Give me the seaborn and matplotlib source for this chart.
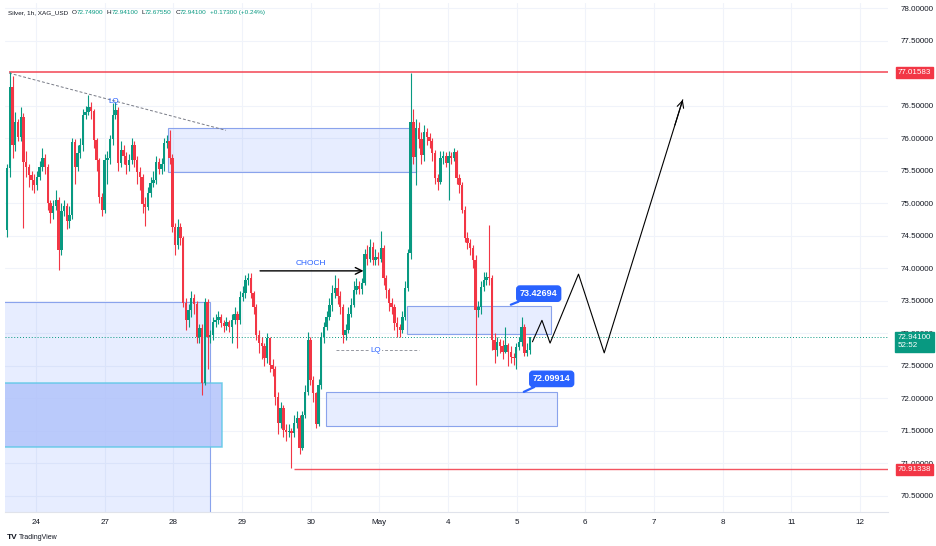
import numpy as np
import pandas as pd
import seaborn as sns
import matplotlib.pyplot as plt
from matplotlib.patches import Rectangle

# ---- values (1h candles, XAG/USD) ----
first_open = 74.59
closes = [
    75.54, 76.79, 75.89, 76.25, 76.02, 76.33, 75.63, 75.55, 75.43, 75.36,
    75.28, 75.40, 75.55, 75.70, 75.56, 75.00, 74.85, 74.95, 75.05, 74.28,
    74.88, 74.95, 74.72, 74.82, 75.94, 75.55, 75.77, 75.89, 76.36, 76.40,
    76.48, 76.42, 75.97, 75.66, 75.10, 74.90, 75.66, 75.70, 75.98, 76.36,
    76.43, 75.62, 75.82, 75.72, 75.58, 75.66, 75.89, 75.66, 75.48, 75.40,
    74.99, 74.94, 75.15, 75.31, 75.36, 75.63, 75.52, 75.60, 75.92, 75.95,
    75.70, 74.63, 74.36, 74.63, 74.46, 73.47, 73.20, 73.36, 73.54, 73.45,
    72.94, 73.08, 72.24, 73.48, 72.94, 72.98, 73.17, 73.20, 73.25, 73.16,
    73.12, 73.18, 73.10, 73.20, 73.30, 73.20, 73.56, 73.62, 73.82, 73.85,
    73.62, 73.41, 72.98, 72.85, 72.80, 72.62, 72.93, 72.51, 72.45, 72.02,
    71.62, 71.85, 71.51, 71.48, 71.50, 71.47, 71.62, 71.70, 71.24, 71.74,
    72.10, 72.90, 72.28, 72.08, 71.60, 72.20, 72.94, 73.10, 73.25, 73.43,
    73.62, 73.70, 73.58, 73.40, 72.97, 73.05, 73.30, 73.44, 73.67, 73.72,
    73.68, 73.78, 74.22, 74.15, 74.32, 74.12, 74.18, 74.15, 74.31, 73.85,
    73.67, 73.47, 73.40, 73.16, 73.10, 73.05, 73.25, 73.70, 74.23, 76.25,
    75.71, 76.16, 75.98, 75.74, 76.10, 76.02, 75.95, 75.77, 75.39, 75.33,
    75.70, 75.72, 75.62, 75.72, 75.70, 75.78, 75.39, 75.28, 74.90, 74.47,
    74.39, 74.31, 74.13, 73.36, 73.40, 73.71, 73.82, 73.87, 73.85, 72.90,
    72.75, 72.87, 72.80, 72.72, 72.82, 72.72, 72.64, 72.62, 72.79, 72.87,
    73.10, 72.70, 72.749, 72.941,
]
highs = [
    75.60, 77.02, 76.95, 76.40, 76.30, 76.48, 76.38, 75.80, 75.60, 75.50,
    75.45, 75.50, 75.65, 75.85, 75.75, 75.60, 75.05, 75.05, 75.20, 75.10,
    75.00, 75.05, 75.00, 74.95, 76.00, 75.98, 75.90, 76.00, 76.45, 76.50,
    76.66, 76.55, 76.45, 76.00, 75.70, 75.15, 75.75, 75.80, 76.05, 76.54,
    76.56, 76.48, 75.95, 75.90, 75.78, 75.75, 76.00, 75.95, 75.72, 75.55,
    75.45, 75.10, 75.25, 75.40, 75.50, 75.72, 75.70, 75.70, 76.00, 76.05,
    76.12, 75.75, 74.70, 74.75, 74.70, 74.50, 73.55, 73.45, 73.65, 73.60,
    73.50, 73.15, 73.15, 73.55, 73.52, 73.05, 73.25, 73.30, 73.35, 73.30,
    73.20, 73.25, 73.20, 73.30, 73.40, 73.35, 73.65, 73.72, 73.90, 73.92,
    73.92, 73.65, 73.45, 73.05, 72.95, 72.85, 73.00, 72.95, 72.60, 72.50,
    72.10, 71.95, 71.90, 71.60, 71.60, 71.55, 71.75, 71.80, 71.75, 71.80,
    72.20, 73.02, 72.95, 72.35, 72.10, 72.30, 73.02, 73.18, 73.35, 73.55,
    73.75, 73.90, 73.85, 73.65, 73.45, 73.15, 73.40, 73.55, 73.80, 73.85,
    73.80, 73.85, 74.30, 74.35, 74.45, 74.40, 74.30, 74.25, 74.58, 74.35,
    73.90, 73.70, 73.55, 73.45, 73.25, 73.15, 73.35, 73.80, 74.30, 77.00,
    76.45, 76.30, 76.25, 76.10, 76.20, 76.15, 76.08, 76.00, 75.82, 75.45,
    75.80, 75.80, 75.78, 75.80, 75.78, 75.85, 75.82, 75.45, 75.32, 74.95,
    74.55, 74.45, 74.35, 74.20, 73.50, 73.80, 73.95, 73.95, 74.66, 73.90,
    73.00, 72.95, 72.92, 72.90, 73.10, 72.85, 72.80, 72.70, 72.85, 72.95,
    73.25, 73.15, 72.85, 72.941,
]
lows = [
    74.48, 75.40, 75.70, 75.80, 75.95, 75.95, 74.62, 75.40, 75.25, 75.20,
    75.15, 75.20, 75.35, 75.50, 75.45, 74.90, 74.70, 74.75, 74.90, 73.97,
    74.20, 74.80, 74.60, 74.62, 74.75, 75.30, 75.50, 75.70, 75.80, 76.30,
    76.35, 76.30, 75.85, 75.50, 75.00, 74.80, 74.85, 75.30, 75.60, 75.90,
    76.30, 75.50, 75.55, 75.60, 75.45, 75.50, 75.60, 75.55, 75.30, 75.20,
    74.85, 74.65, 74.90, 75.10, 75.25, 75.30, 75.45, 75.45, 75.50, 75.85,
    75.60, 74.55, 74.20, 74.30, 74.35, 73.40, 73.05, 73.10, 73.25, 73.30,
    72.85, 72.85, 72.05, 72.20, 72.45, 72.85, 72.90, 73.10, 73.15, 73.10,
    73.02, 73.05, 73.02, 72.85, 73.15, 72.78, 73.15, 73.50, 73.55, 73.75,
    73.55, 73.30, 72.90, 72.70, 72.60, 72.50, 72.55, 72.40, 72.35, 71.90,
    71.45, 71.55, 71.40, 71.35, 71.40, 70.93, 71.40, 71.55, 71.15, 71.20,
    71.70, 72.05, 72.20, 71.95, 71.55, 71.58, 72.15, 72.85, 73.05, 73.20,
    73.35, 73.55, 73.45, 73.30, 72.85, 72.90, 73.00, 73.25, 73.40, 73.60,
    73.60, 73.60, 73.75, 74.05, 74.10, 74.05, 74.05, 74.05, 74.10, 73.75,
    73.55, 73.35, 73.30, 73.05, 72.95, 72.95, 73.00, 73.20, 73.65, 74.15,
    75.60, 75.28, 75.85, 75.60, 75.65, 75.90, 75.85, 75.65, 75.30, 75.20,
    75.30, 75.60, 75.55, 75.05, 75.60, 75.65, 75.30, 75.15, 74.85, 74.40,
    74.30, 74.20, 74.00, 72.20, 73.25, 73.30, 73.65, 73.75, 73.75, 72.75,
    72.55, 72.65, 72.70, 72.60, 72.70, 72.50, 72.55, 72.52, 72.45, 72.75,
    72.80, 72.65, 72.65, 72.6755,
]
change = 0.173
day_labels = ["24", "27", "28", "29", "30", "May", "4", "5", "6", "7", "8", "11", "12"]
# 77.0 is hidden behind the 77.01583 level tag on the original
price_ticks = [70.5, 71.0, 71.5, 72.0, 72.5, 73.0, 73.5, 74.0, 74.5, 75.0, 75.5, 76.0, 76.5, 77.5, 78.0]

level_high = 77.01583
level_low = 70.91338
zone_mid_top = 73.42694
zone_low_top = 72.09914

# hand drawn projection path (bar index, price)
proj_x = [194, 197.5, 200.5, 211, 220.5, 249.5]
proj_y = [72.87, 73.20, 72.85, 73.91, 72.70, 76.59]

GREEN = "#089981"
RED = "#f23645"
BLUE = "#2962ff"
TXT = "#131722"

df = pd.DataFrame({"close": closes, "high": highs, "low": lows})
df["open"] = [first_open] + closes[:-1]
df["bar"] = np.arange(len(df))
df["high"] = df[["high", "open", "close"]].max(axis=1)
df["low"] = df[["low", "open", "close"]].min(axis=1)
df["color"] = np.where(df["close"] >= df["open"], GREEN, RED)

sns.set_theme(style="white")
plt.rcParams["font.family"] = ["Liberation Sans", "DejaVu Sans"]

fig = plt.figure(figsize=(9.36, 5.46), dpi=100)
ax = fig.add_axes([5 / 936, 34 / 546, 883 / 936, 509 / 546])

# zones
zone_kw = dict(facecolor=BLUE, alpha=0.11, edgecolor="none", zorder=1)
edge_kw = dict(facecolor="none", edgecolor="#8aa3ec", lw=0.8, zorder=1.5)
for x0, x1, y0, y1 in [(59.4, 150.9, 75.48, 76.16), (-2, 74.9, 69.5, 73.48),
                       (147.6, 201.0, 72.99, zone_mid_top), (117.7, 202.9, 71.58, zone_low_top)]:
    ax.add_patch(Rectangle((x0, y0), x1 - x0, y1 - y0, **zone_kw))
    ax.add_patch(Rectangle((x0, y0), x1 - x0, y1 - y0, **edge_kw))
ax.add_patch(Rectangle((-2, 71.25), 81.3, 0.99, facecolor="#b3c4fb", alpha=0.85,
                       edgecolor="#5cc8e6", lw=1.1, zorder=1.6))

# candles
ax.vlines(df["bar"], df["low"], df["high"], colors=df["color"], lw=0.8, zorder=3)
body = (df["close"] - df["open"]).abs().clip(lower=0.015)
ax.bar(df["bar"], body, bottom=df[["open", "close"]].min(axis=1), width=0.88,
       color=df["color"], linewidth=0, zorder=4)

# key levels
ax.hlines(level_high, 0.7, 330, color=RED, lw=1.2, alpha=0.85, zorder=2)
ax.hlines(level_low, 105.9, 330, color=RED, lw=1.0, alpha=0.85, zorder=2)
last = df.iloc[-1]
ax.axhline(last["close"], color=GREEN, ls=(0, (1, 2)), lw=0.7, zorder=2)

# liquidity trendline + labels
ax.plot([0.7, 80.8], [77.0, 76.12], color="#787b86", ls=(0, (3, 2)), lw=0.7, zorder=2)
ax.text(39.5, 76.57, "LQ", color=BLUE, fontsize=5.8, ha="center", va="center", zorder=5)
ax.hlines(72.74, 121.4, 152, color="#9598a1", ls=(0, (3, 2)), lw=0.7, zorder=2)
ax.text(136.2, 72.74, "LQ", color=BLUE, fontsize=5.8, ha="center", va="center", zorder=5,
        bbox=dict(boxstyle="square,pad=0.1", fc="white", ec="none"))

# CHOCH
ax.annotate("", xy=(131.6, 73.96), xytext=(93.4, 73.96),
            arrowprops=dict(arrowstyle="->", color="black", lw=1.0, shrinkA=0, shrinkB=0))
ax.text(112.2, 74.08, "CHOCH", color=BLUE, fontsize=6, ha="center", va="center")

# callouts
for txt, tip, box in [(f"{zone_mid_top:.5f}", (186, 73.44), (196.3, 73.61)),
                      (f"{zone_low_top:.5f}", (190.8, 72.10), (201.1, 72.30))]:
    ax.annotate(txt, xy=tip, xytext=box, ha="center", va="center", color="white",
                fontsize=6.5, fontweight="bold", zorder=6,
                bbox=dict(boxstyle="round,pad=0.35", fc=BLUE, ec=BLUE),
                arrowprops=dict(arrowstyle="-", color=BLUE, lw=1.6, shrinkA=0, shrinkB=0))

# projected path
sns.lineplot(x=proj_x, y=proj_y, ax=ax, color="black", lw=0.8, sort=False,
             estimator=None, zorder=5)
ax.annotate("", xy=(proj_x[-1], proj_y[-1]),
            xytext=(proj_x[-1] - 0.1 * (proj_x[-1] - proj_x[-2]),
                    proj_y[-1] - 0.1 * (proj_y[-1] - proj_y[-2])),
            arrowprops=dict(arrowstyle="->", color="black", lw=0.8, shrinkA=0, shrinkB=0))

# axes
bars_per_day = 25.35
ax.set_xlim(-0.8, 325.3)
ax.set_ylim(70.254, 78.077)
ax.set_xticks(10.7 + bars_per_day * np.arange(len(day_labels)))
ax.set_xticklabels(day_labels)
ax.set_yticks(price_ticks)
ax.set_yticklabels([f"{v:.5f}" for v in price_ticks])
ax.yaxis.tick_right()
ax.tick_params(axis="y", length=0, pad=9, labelsize=5.8, labelcolor=TXT)
ax.tick_params(axis="x", length=0, pad=5, labelsize=5.8, labelcolor=TXT)
ax.grid(True, color="#f0f3fa", lw=0.8)
ax.set_axisbelow(True)
for side in ["top", "left", "right"]:
    ax.spines[side].set_visible(False)
ax.spines["bottom"].set_color("#e0e3eb")
ax.spines["bottom"].set_linewidth(0.8)
ax.set_xlabel("")
ax.set_ylabel("")

# price scale tags
ytr = ax.get_yaxis_transform()
box_kw = dict(transform=ytr, ha="left", va="center", color="white", fontsize=5.8,
              clip_on=False, zorder=7)
ax.text(1.011, level_high, f"{level_high:.5f}",
        bbox=dict(boxstyle="square,pad=0.25", fc=RED, ec=RED), **box_kw)
ax.text(1.011, level_low, f"{level_low:.5f}",
        bbox=dict(boxstyle="square,pad=0.25", fc=RED, ec=RED), **box_kw)
ax.text(1.011, last["close"] - 0.07, f"{last['close']:.5f}\n52:52", linespacing=1.15,
        bbox=dict(boxstyle="square,pad=0.3", fc=GREEN, ec=GREEN), **box_kw)

# header line: symbol then OHLC of the last bar
pct = change / (last["close"] - change) * 100
parts = [("O", TXT), (f"{last['open']:.5f}", GREEN),
         ("H", TXT), (f"{last['high']:.5f}", GREEN), ("L", TXT), (f"{last['low']:.5f}", GREEN),
         ("C", TXT), (f"{last['close']:.5f}", GREEN), (f"+{change:.5f} (+{pct:.2f}%)", GREEN)]
gaps = [2.5, 0, 2.5, 0, 2.5, 0, 2.5, 0, 2.5]
cur = fig.text(8 / 936, 1 - 14 / 546, "Silver, 1h, XAG_USD", color=TXT, fontsize=4.6)
for (s, c), g in zip(parts, gaps):
    cur = ax.annotate(s, xy=(1, 0), xycoords=cur, xytext=(g, 0), textcoords="offset points",
                      color=c, fontsize=4.6, va="bottom", ha="left", annotation_clip=False)

# footer logo
fig.text(7 / 936, 1 - 539 / 546, "TV", fontsize=6, fontweight="bold", color=TXT)
fig.text(19 / 936, 1 - 539 / 546, "TradingView", fontsize=5, color=TXT)

fig.savefig("out.png", dpi=100)
